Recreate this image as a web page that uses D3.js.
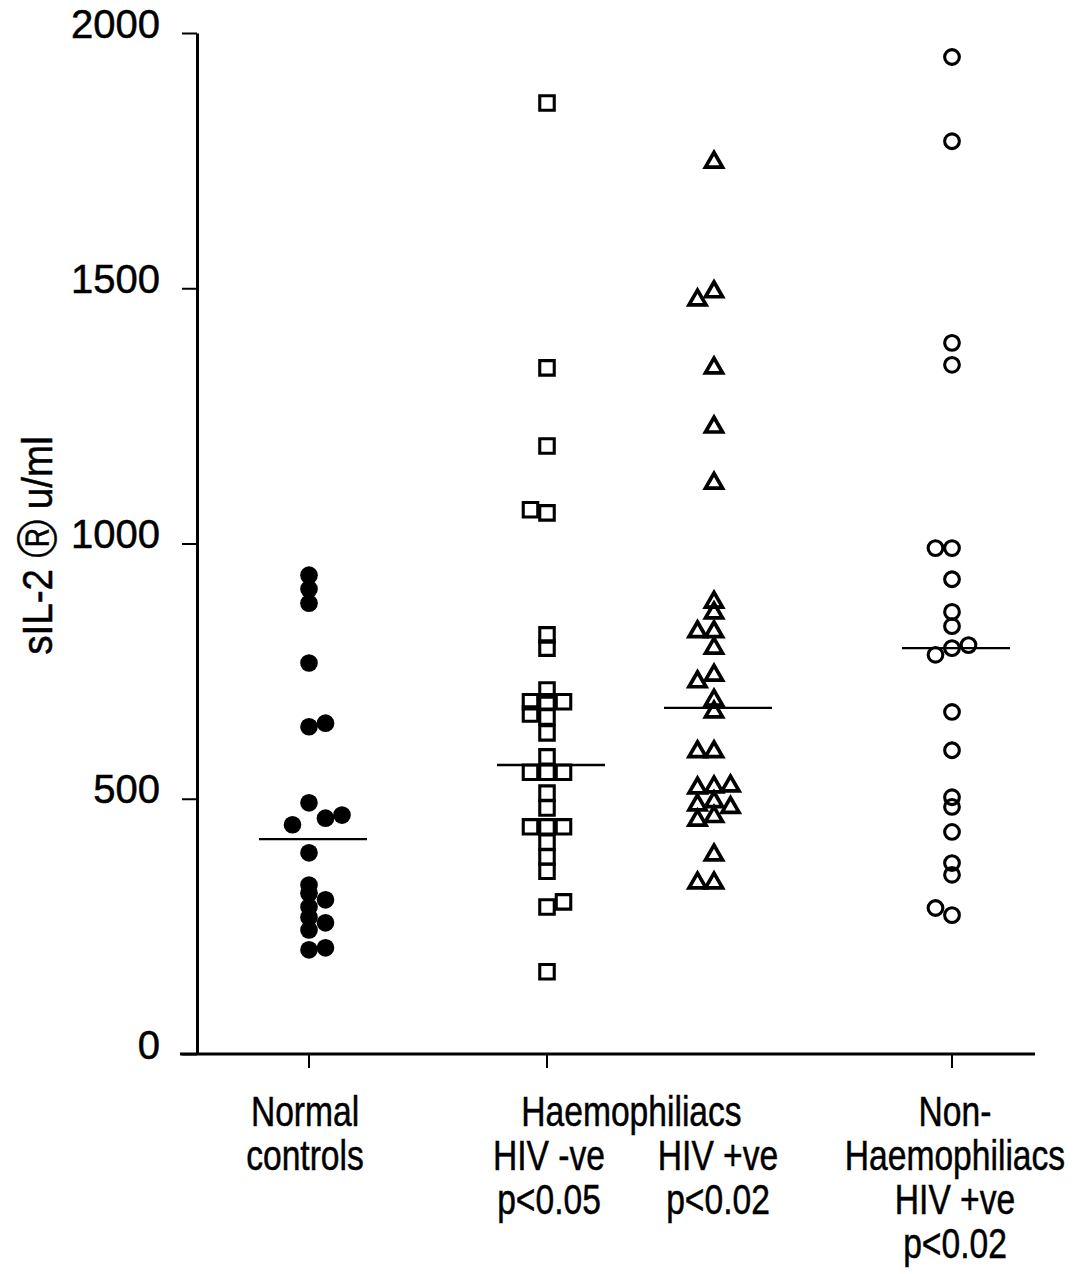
<!DOCTYPE html>
<html>
<head>
<meta charset="utf-8">
<script src="https://cdn.jsdelivr.net/npm/d3@7"></script>
<style>
  html, body { margin: 0; padding: 0; background: #fff; }
  svg { display: block; }
</style>
</head>
<body>
<svg id="chart" width="1075" height="1274"></svg>
<script>
// ---- data ---------------------------------------------------------------
const groups = ["Normal controls", "Haemophiliacs", "Non-Haemophiliacs"];
const haemSubgroups = ["HIV -ve", "HIV +ve"];
const yTicks = [0, 500, 1000, 1500, 2000];
const yTitle = "sIL-2 \u24C7 u/ml";

// serum soluble IL-2 receptor, u/ml, one value per subject
const normalValues = [938, 911, 883, 766, 641, 648, 492, 449, 462, 468, 394,
  331, 315, 302, 288, 268, 257, 243, 204, 208];
const haemNegValues = [1863, 1344, 1191, 1066, 1060, 821, 795, 713, 690, 690,
  690, 666, 660, 629, 582, 552, 552, 552, 511, 482, 445, 445, 445, 415, 386,
  358, 288, 298, 161];
const haemPosValues = [1747, 1493, 1477, 1344, 1228, 1118, 885, 864, 827, 827,
  795, 742, 729, 693, 670, 592, 592, 523, 521, 525, 494, 488, 483, 465, 458,
  390, 335, 335];
const nonHaemValues = [1953, 1788, 1393, 1350, 991, 991, 930, 866, 838, 782,
  795, 801, 670, 595, 503, 484, 435, 374, 351, 286, 272];

// dot-plot lane of each subject (0 = centre column, -1 left, +1 right ...)
const normalLanes = [0, 0, 0, 0, 0, 1, 0, -1, 1, 2, 0, 0, 0, 1, 0, 0, 1, 0, 0, 1];
const haemNegLanes = [0, 0, 0, -1, 0, 0, 0, 0, -1, 0, 1, -1, 0, 0, 0, -1, 0, 1,
  0, 0, -1, 0, 1, 0, 0, 0, 0, 1, 0];
const haemPosLanes = [0, 0, -1, 0, 0, 0, 0, 0, -1, 0, 0, 0, -1, 0, 0, -1, 0, 0,
  -1, 1, 0, -1, 1, 0, -1, 0, -1, 0];
const nonHaemLanes = [0, 0, 0, 0, -1, 0, 0, 0, 0, -1, 0, 1, 0, 0, 0, 0, 0, 0,
  0, -1, 0];

// group medians
const medians = [421, 566, 678, 795];

// category label lines
const normalLabel = ["Normal", "controls"];
const haemLabel = ["Haemophiliacs"];
const haemNegLabel = ["HIV -ve", "p<0.05"];
const haemPosLabel = ["HIV +ve", "p<0.02"];
const nonHaemLabel = ["Non-", "Haemophiliacs", "HIV +ve", "p<0.02"];

// ---- layout -------------------------------------------------------------
const svg = d3.select("#chart");
const ink = "#000";
const baseFont = "'Liberation Sans', Arial, Helvetica, sans-serif";
const narrow = 0.8;   // horizontal squeeze giving a condensed face

const y = d3.scaleLinear().domain([0, 2000]).range([1054, 33]);
const x = d3.scalePoint().domain(groups).range([309, 952]);
const sub = d3.scalePoint().domain(haemSubgroups).range([-83.5, 83.5]);
const lane = d3.scaleLinear().domain([0, 1]).range([0, 16.5]);

const series = [
  { key: "normal", cx: x(groups[0]), values: normalValues, lanes: normalLanes,
    symbol: d3.symbolCircle, size: 245, filled: true, stroke: 0, median: medians[0] },
  { key: "haemNeg", cx: x(groups[1]) + sub(haemSubgroups[0]), values: haemNegValues,
    lanes: haemNegLanes, symbol: d3.symbolSquare, size: 210, filled: false, stroke: 3.1, median: medians[1] },
  { key: "haemPos", cx: x(groups[1]) + sub(haemSubgroups[1]), values: haemPosValues,
    lanes: haemPosLanes, symbol: d3.symbolTriangle, size: 125, filled: false, stroke: 3.7, median: medians[2] },
  { key: "nonHaem", cx: x(groups[2]), values: nonHaemValues, lanes: nonHaemLanes,
    symbol: d3.symbolCircle, size: 170, filled: false, stroke: 3.1, median: medians[3] }
];

// ---- y axis -------------------------------------------------------------
const yAxis = d3.axisLeft(y)
  .tickValues(yTicks)
  .tickFormat(d3.format("d"))
  .tickSize(15)
  .tickSizeOuter(0)
  .tickPadding(22);

const yAxisG = svg.append("g")
  .attr("transform", "translate(197,0)")
  .call(yAxis);
yAxisG.select(".domain").attr("stroke", ink).attr("stroke-width", 3);
yAxisG.selectAll(".tick line").attr("stroke", ink).attr("stroke-width", 2);
yAxisG.selectAll(".tick text")
  .attr("fill", ink)
  .attr("stroke", ink)
  .attr("stroke-width", 0.5)
  .attr("dy", "0.1em")
  .style("font-family", baseFont)
  .style("font-size", "40px");

svg.append("g")
  .attr("transform", `translate(52,${(y(0) + y(2000)) / 2 + 2}) rotate(-90) scale(0.92,1)`)
  .append("text")
  .attr("text-anchor", "middle")
  .attr("fill", ink)
  .attr("stroke", ink)
  .attr("stroke-width", 0.5)
  .style("font-family", baseFont)
  .style("font-size", "42px")
  .text(yTitle);

// ---- x axis -------------------------------------------------------------
const baseY = y(0);
svg.append("line")
  .attr("x1", 180).attr("x2", 1035)
  .attr("y1", baseY).attr("y2", baseY)
  .attr("stroke", ink).attr("stroke-width", 3);

const xTickPositions = [series[0].cx, series[1].cx, series[3].cx];
svg.append("g").selectAll("line")
  .data(xTickPositions)
  .join("line")
  .attr("x1", d => d).attr("x2", d => d)
  .attr("y1", baseY).attr("y2", baseY + 14)
  .attr("stroke", ink).attr("stroke-width", 2);

// ---- category labels ----------------------------------------------------
const lineStep = 44;
const firstBaseline = baseY + 72;
function labelBlock(lines, cx, startRow) {
  svg.append("g").selectAll("g")
    .data(lines)
    .join("g")
    .attr("transform", (d, i) =>
      `translate(${cx},${firstBaseline + (startRow + i) * lineStep}) scale(${narrow},1)`)
    .append("text")
    .attr("text-anchor", "middle")
    .attr("fill", ink)
    .attr("stroke", ink)
    .attr("stroke-width", 0.5)
    .style("font-family", baseFont)
    .style("font-size", "42px")
    .text(d => d);
}
labelBlock(normalLabel, x(groups[0]) - 4, 0);
labelBlock(haemLabel, x(groups[1]) + 1, 0);
labelBlock(haemNegLabel, series[1].cx + 2, 1);
labelBlock(haemPosLabel, series[2].cx + 4, 1);
labelBlock(nonHaemLabel, x(groups[2]) + 3, 0);

// ---- medians ------------------------------------------------------------
svg.append("g").selectAll("line")
  .data(series)
  .join("line")
  .attr("x1", d => d.cx - 50)
  .attr("x2", d => d.cx + 58)
  .attr("y1", d => y(d.median))
  .attr("y2", d => y(d.median))
  .attr("stroke", ink)
  .attr("stroke-width", 2.4);

// ---- points -------------------------------------------------------------
series.forEach(s => {
  const pts = s.values.map((v, i) => ({ v, lane: s.lanes[i] }));
  svg.append("g")
    .attr("class", s.key)
    .selectAll("path")
    .data(pts)
    .join("path")
    .attr("d", d3.symbol().type(s.symbol).size(s.size))
    .attr("transform", d => `translate(${s.cx + lane(d.lane)},${y(d.v)})`)
    .attr("fill", s.filled ? ink : "none")
    .attr("stroke", ink)
    .attr("stroke-width", s.stroke)
    .attr("stroke-linejoin", "miter");
});
</script>
</body>
</html>
